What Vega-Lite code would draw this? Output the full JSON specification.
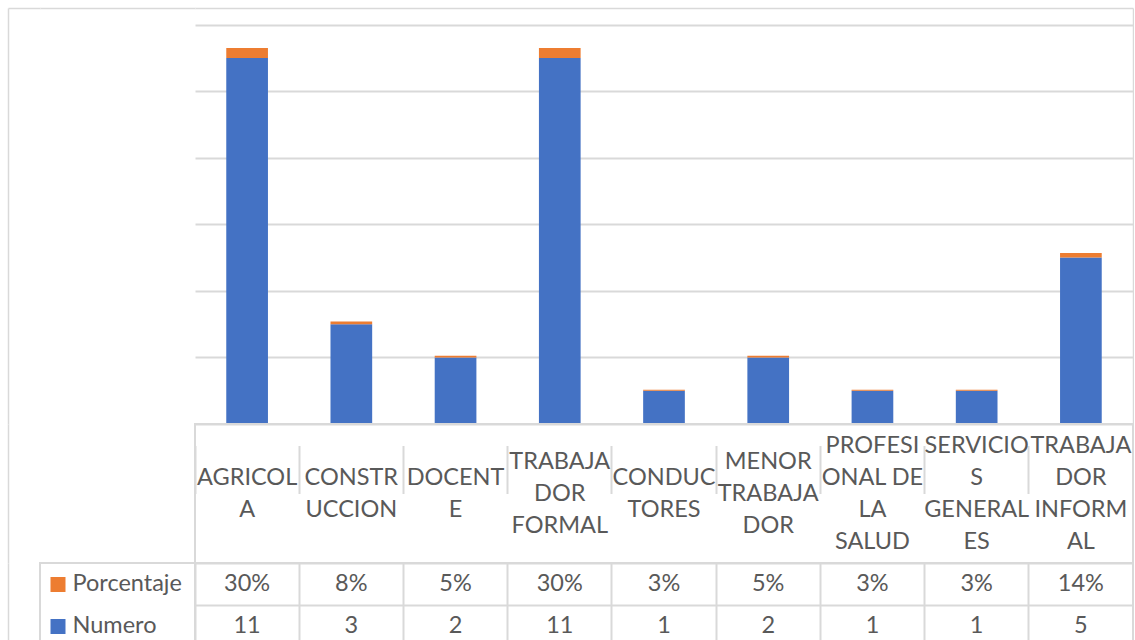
{
  "$schema": "https://vega.github.io/schema/vega-lite/v6.json",
  "padding": {"left": 5, "top": 8, "right": 0, "bottom": 0},
  "config": {"view": {"stroke": null}, "font": "Lato", "axis": {"labelFont": "Lato"}},
  "datasets": {
    "main": [
      {"cat": "AGRICOLA", "label": "AGRICOL|A", "serie": "Numero", "value": 11},
      {"cat": "AGRICOLA", "label": "AGRICOL|A", "serie": "Porcentaje", "value": 0.2973},
      {"cat": "CONSTRUCCION", "label": "CONSTR|UCCION", "serie": "Numero", "value": 3},
      {"cat": "CONSTRUCCION", "label": "CONSTR|UCCION", "serie": "Porcentaje", "value": 0.0811},
      {"cat": "DOCENTE", "label": "DOCENT|E", "serie": "Numero", "value": 2},
      {"cat": "DOCENTE", "label": "DOCENT|E", "serie": "Porcentaje", "value": 0.0541},
      {"cat": "TRABAJADOR FORMAL", "label": "TRABAJA|DOR|FORMAL", "serie": "Numero", "value": 11},
      {"cat": "TRABAJADOR FORMAL", "label": "TRABAJA|DOR|FORMAL", "serie": "Porcentaje", "value": 0.2973},
      {"cat": "CONDUCTORES", "label": "CONDUC|TORES", "serie": "Numero", "value": 1},
      {"cat": "CONDUCTORES", "label": "CONDUC|TORES", "serie": "Porcentaje", "value": 0.027},
      {"cat": "MENOR TRABAJADOR", "label": "MENOR|TRABAJA|DOR", "serie": "Numero", "value": 2},
      {"cat": "MENOR TRABAJADOR", "label": "MENOR|TRABAJA|DOR", "serie": "Porcentaje", "value": 0.0541},
      {"cat": "PROFESIONAL DE LA SALUD", "label": "PROFESI|ONAL DE|LA|SALUD", "serie": "Numero", "value": 1},
      {"cat": "PROFESIONAL DE LA SALUD", "label": "PROFESI|ONAL DE|LA|SALUD", "serie": "Porcentaje", "value": 0.027},
      {"cat": "SERVICIOS GENERALES", "label": "SERVICIO|S|GENERAL|ES", "serie": "Numero", "value": 1},
      {"cat": "SERVICIOS GENERALES", "label": "SERVICIO|S|GENERAL|ES", "serie": "Porcentaje", "value": 0.027},
      {"cat": "TRABAJADOR INFORMAL", "label": "TRABAJA|DOR|INFORM|AL", "serie": "Numero", "value": 5},
      {"cat": "TRABAJADOR INFORMAL", "label": "TRABAJA|DOR|INFORM|AL", "serie": "Porcentaje", "value": 0.1351}
    ]
  },
  "columns": 3,
  "spacing": 0,
  "bounds": "flush",
  "concat": [
    {
      "width": 32, "height": 416,
      "data": {"values": [{}]},
      "mark": {"type": "point", "opacity": 0},
      "encoding": {
        "x": {"datum": 0, "type": "quantitative", "scale": {"domain": [0, 1]},
          "axis": {"orient": "top", "title": null, "labels": false, "ticks": false, "grid": false, "domain": true, "domainColor": "#d9d9d9", "domainWidth": 1.5}},
        "y": {"datum": 0, "type": "quantitative", "scale": {"domain": [0, 1]},
          "axis": {"orient": "left", "title": null, "labels": false, "ticks": false, "grid": false, "domain": true, "domainColor": "#d9d9d9", "domainWidth": 1.5}}
      }
    },
    {
      "width": 155, "height": 416,
      "data": {"values": [{}]},
      "mark": {"type": "point", "opacity": 0},
      "encoding": {
        "x": {"datum": 0, "type": "quantitative", "scale": {"domain": [0, 1]},
          "axis": {"orient": "top", "title": null, "labels": false, "ticks": false, "grid": false, "domain": true, "domainColor": "#d9d9d9", "domainWidth": 1.5}}
      }
    },
    {
      "width": 938, "height": 416,
      "data": {"name": "main"},
      "mark": {"type": "bar"},
      "encoding": {
        "x": {"field": "cat", "type": "nominal", "sort": null,
          "scale": {"type": "band", "paddingInner": 0.6, "paddingOuter": 0.3},
          "axis": {"orient": "top", "title": null, "labels": false, "ticks": false, "grid": false, "domain": true, "domainColor": "#d9d9d9", "domainWidth": 1.5}},
        "y": {"field": "value", "type": "quantitative", "stack": "zero",
          "scale": {"domain": [0, 12.5], "nice": false, "zero": true},
          "axis": {"orient": "right", "title": null, "labels": false, "ticks": false, "domain": true, "domainColor": "#d9d9d9", "domainWidth": 1.5,
            "grid": true, "gridColor": "#d9d9d9", "gridWidth": 2, "values": [0, 2, 4, 6, 8, 10, 12]}},
        "color": {"field": "serie", "type": "nominal",
          "scale": {"domain": ["Porcentaje", "Numero"], "range": ["#ED7D31", "#4472C4"]}, "legend": null},
        "order": {"field": "serie", "sort": "ascending"}
      }
    },
    {
      "width": 32, "height": 139,
      "data": {"values": [{}]},
      "mark": {"type": "point", "opacity": 0},
      "encoding": {
        "y": {"datum": 0, "type": "quantitative", "scale": {"domain": [0, 1]},
          "axis": {"orient": "left", "title": null, "labels": false, "ticks": false, "grid": false, "domain": true, "domainColor": "#d9d9d9", "domainWidth": 1.5}}
      }
    },
    {
      "width": 155, "height": 139,
      "data": {"values": [{}]},
      "mark": {"type": "point", "opacity": 0},
      "encoding": {}
    },
    {
      "width": 938, "height": 139,
      "data": {"name": "main"},
      "transform": [
        {"filter": "datum.serie === 'Numero'"},
        {"calculate": "split(datum.label, '|').length", "as": "nlines"}
      ],
      "view": {"stroke": "#d9d9d9", "strokeWidth": 2},
      "mark": {"type": "text", "lineBreak": "|", "fontSize": 23.5, "font": "Lato", "color": "#595959", "baseline": "middle", "align": "center", "lineHeight": 32},
      "encoding": {
        "x": {"field": "cat", "type": "nominal", "sort": null,
          "scale": {"type": "band", "paddingInner": 0, "paddingOuter": 0},
          "axis": {"orient": "top", "title": null, "grid": true, "bandPosition": 0, "gridColor": "#d9d9d9", "gridWidth": 2,
            "labels": false, "ticks": false, "domain": false}},
        "y": {"field": "nlines", "type": "quantitative", "scale": {"domain": [1, 4], "range": [69.5, 21.5], "zero": false, "nice": false}, "axis": null},
        "text": {"field": "label", "type": "nominal"}
      }
    },
    {
      "width": 32, "height": 84,
      "data": {"values": [{}]},
      "mark": {"type": "point", "opacity": 0},
      "encoding": {
        "y": {"datum": 0, "type": "quantitative", "scale": {"domain": [0, 1]},
          "axis": {"orient": "left", "title": null, "labels": false, "ticks": false, "grid": false, "domain": true, "domainColor": "#d9d9d9", "domainWidth": 1.5}}
      }
    },
    {
      "width": 155, "height": 84,
      "data": {"name": "main"},
      "view": {"stroke": "#d9d9d9", "strokeWidth": 2},
      "mark": {"type": "point", "opacity": 0},
      "encoding": {
        "y": {"field": "serie", "type": "nominal", "sort": ["Porcentaje", "Numero"],
          "scale": {"type": "band", "paddingInner": 0, "paddingOuter": 0},
          "axis": {"orient": "left", "title": null, "offset": -25, "domain": false, "grid": false,
            "ticks": true, "tickSize": 15, "tickWidth": 15,
            "tickColor": {"condition": {"test": "datum.value === 'Porcentaje'", "value": "#ED7D31"}, "value": "#4472C4"},
            "labels": true, "labelAlign": "left", "labelBaseline": "middle", "labelPadding": -22,
            "labelFont": "Lato", "labelFontSize": 23.5, "labelColor": "#595959",
            "labelOverlap": false, "labelBound": false, "labelFlush": false, "labelLimit": 0}
        }
      }
    },
    {
      "width": 938, "height": 84,
      "data": {"name": "main"},
      "view": {"stroke": "#d9d9d9", "strokeWidth": 2},
      "mark": {"type": "text", "fontSize": 23.5, "font": "Lato", "color": "#595959", "baseline": "middle", "align": "center"},
      "encoding": {
        "x": {"field": "cat", "type": "nominal", "sort": null,
          "scale": {"type": "band", "paddingInner": 0, "paddingOuter": 0},
          "axis": {"orient": "top", "title": null, "grid": true, "bandPosition": 0, "gridColor": "#d9d9d9", "gridWidth": 2,
            "labels": false, "ticks": false, "domain": false}},
        "y": {"field": "serie", "type": "nominal", "sort": ["Porcentaje", "Numero"],
          "scale": {"type": "band", "paddingInner": 0, "paddingOuter": 0},
          "axis": {"orient": "left", "title": null, "grid": true, "bandPosition": 0, "gridColor": "#d9d9d9", "gridWidth": 2,
            "labels": false, "ticks": false, "domain": false}},
        "text": {
          "condition": {"test": "datum.serie === 'Porcentaje'", "field": "value", "type": "quantitative", "format": ".0%"},
          "field": "value", "type": "quantitative", "format": "d"
        }
      }
    }
  ]
}
